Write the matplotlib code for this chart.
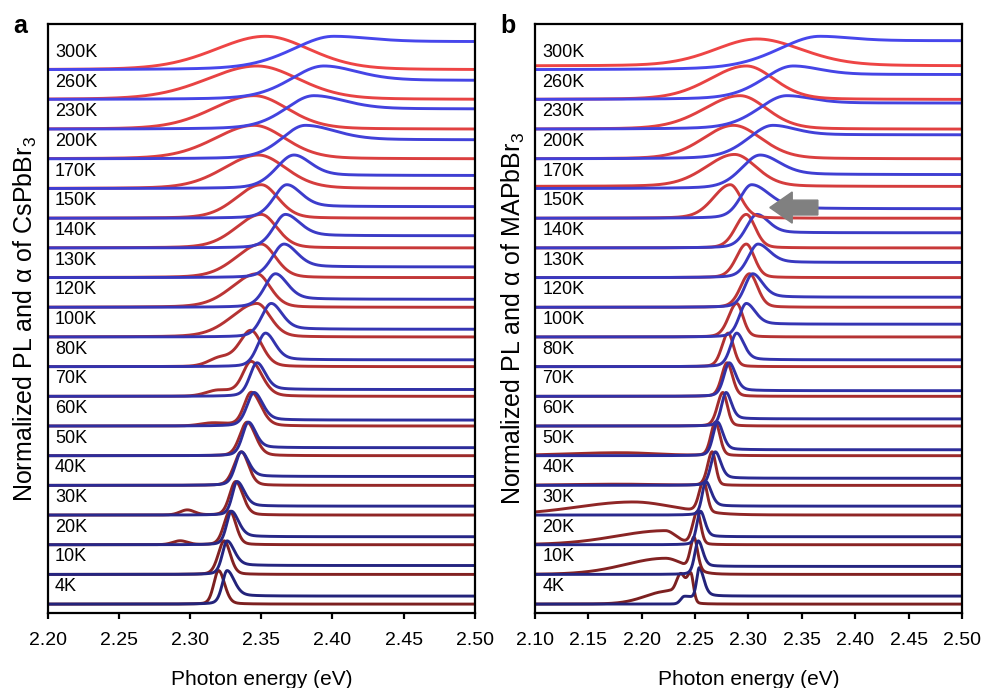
import numpy as np
import matplotlib
matplotlib.use("Agg")
import matplotlib.pyplot as plt
from matplotlib.patches import FancyArrow
from matplotlib.colors import to_rgb

plt.rcParams['font.family'] = ['Liberation Sans', 'DejaVu Sans']
plt.rcParams['mathtext.fontset'] = 'custom'
plt.rcParams['mathtext.rm'] = 'Liberation Sans'
plt.rcParams['mathtext.it'] = 'Liberation Sans:italic'
plt.rcParams['mathtext.default'] = 'regular'

# temperaturas, de abajo hacia arriba
temps = ['4K', '10K', '20K', '30K', '40K', '50K', '60K', '70K', '80K', '100K',
         '120K', '130K', '140K', '150K', '170K', '200K', '230K', '260K', '300K']

# a: CsPbBr3 -- PL (rojo)
pl_a_peak = [2.320, 2.324, 2.328, 2.332, 2.336, 2.340, 2.343, 2.343, 2.343, 2.347,
             2.347, 2.350, 2.350, 2.350, 2.348, 2.345, 2.345, 2.347, 2.353]
pl_a_wl = [0.004, 0.005, 0.005, 0.005, 0.006, 0.006, 0.006, 0.007, 0.009, 0.021,
           0.021, 0.021, 0.021, 0.021, 0.029, 0.033, 0.035, 0.042, 0.042]
pl_a_wr = [0.005, 0.005, 0.005, 0.006, 0.006, 0.007, 0.008, 0.009, 0.009, 0.011,
           0.011, 0.012, 0.013, 0.014, 0.023, 0.026, 0.028, 0.035, 0.037]
pl_a_amp = [1.13] * 19
pl_a_bg = [0.0] * 19
# bandas extra: (indice, centro, altura, ancho izq, ancho der)
pl_a_bands = [(8, 2.322, 0.30, 0.010, 0.016),
              (7, 2.320, 0.20, 0.010, 0.016),
              (6, 2.316, 0.10, 0.010, 0.014),
              (3, 2.298, 0.17, 0.006, 0.006),
              (2, 2.293, 0.13, 0.006, 0.006)]

# a: CsPbBr3 -- absorcion (azul)
ab_a_peak = [2.326, 2.326, 2.329, 2.333, 2.336, 2.341, 2.345, 2.347, 2.353, 2.357,
             2.360, 2.366, 2.367, 2.368, 2.373, 2.381, 2.387, 2.394, 2.401]
ab_a_wl = [0.004, 0.004, 0.004, 0.004, 0.005, 0.005, 0.006, 0.006, 0.007, 0.008,
           0.009, 0.010, 0.010, 0.011, 0.015, 0.020, 0.024, 0.028, 0.035]
ab_a_wr = [0.006, 0.006, 0.006, 0.006, 0.006, 0.006, 0.007, 0.007, 0.008, 0.009,
           0.010, 0.011, 0.012, 0.012, 0.014, 0.025, 0.026, 0.028, 0.030]
ab_a_plat = [0.27, 0.30, 0.27, 0.30, 0.30, 0.27, 0.20, 0.23, 0.23, 0.26,
             0.27, 0.36, 0.41, 0.39, 0.44, 0.64, 0.68, 0.64, 0.95]
ab_a_bands = []

# b: MAPbBr3 -- PL (rojo)
pl_b_peak = [2.246, 2.249, 2.252, 2.258, 2.266, 2.269, 2.276, 2.280, 2.281, 2.289,
             2.301, 2.298, 2.298, 2.283, 2.287, 2.286, 2.292, 2.298, 2.308]
pl_b_wl = [0.0045, 0.004, 0.005, 0.005, 0.005, 0.005, 0.006, 0.006, 0.007, 0.009,
           0.010, 0.011, 0.012, 0.019, 0.032, 0.034, 0.040, 0.041, 0.047]
pl_b_wr = [0.003, 0.004, 0.004, 0.004, 0.004, 0.005, 0.005, 0.006, 0.006, 0.007,
           0.009, 0.009, 0.010, 0.012, 0.024, 0.031, 0.030, 0.031, 0.050]
pl_b_amp = [1.00, 1.10, 1.10, 1.05, 1.13, 1.13, 1.13, 1.13, 1.13, 1.13,
            1.13, 1.13, 1.13, 1.13, 1.08, 1.13, 1.13, 1.13, 0.91]
pl_b_bg = [0.0] * 14 + [0.07, 0.0, 0.0, 0.0, 0.13]
pl_b_bands = [(0, 2.2365, 0.88, 0.005, 0.0045),
              (0, 2.224, 0.42, 0.025, 0.008),
              (1, 2.222, 0.54, 0.045, 0.020),
              (2, 2.222, 0.47, 0.055, 0.012),
              (3, 2.192, 0.44, 0.063, 0.045),
              (4, 2.180, 0.04, 0.060, 0.040),
              (5, 2.180, 0.10, 0.060, 0.040)]

# b: MAPbBr3 -- absorcion (azul)
ab_b_peak = [2.254, 2.253, 2.255, 2.260, 2.269, 2.271, 2.279, 2.282, 2.289, 2.298,
             2.304, 2.309, 2.308, 2.303, 2.311, 2.323, 2.336, 2.342, 2.367]
ab_b_wl = [0.003, 0.004, 0.004, 0.004, 0.005, 0.005, 0.005, 0.006, 0.007, 0.008,
           0.009, 0.011, 0.012, 0.013, 0.021, 0.028, 0.032, 0.034, 0.047]
ab_b_wr = [0.005, 0.005, 0.005, 0.006, 0.006, 0.006, 0.006, 0.007, 0.008, 0.010,
           0.011, 0.013, 0.013, 0.020, 0.022, 0.025, 0.028, 0.030, 0.035]
ab_b_plat = [0.27, 0.27, 0.27, 0.30, 0.24, 0.20, 0.24, 0.19, 0.23, 0.43,
             0.34, 0.51, 0.51, 0.32, 0.47, 0.81, 0.88, 0.84, 0.98]
ab_b_bands = [(0, 2.240, 0.25, 0.004, 0.012)]

ab_height = 1.13
eta_pl = 0.2
eta_ab = 0.3

red_top, red_bot = '#EE4545', '#7C2020'
blue_top, blue_bot = '#4747EC', '#23237A'


def forma(x, c, wl, wr, eta):
    w = np.where(x < c, wl, wr)
    u = (x - c) / w
    return (1 - eta) * np.exp(-np.log(2) * u ** 2) + eta / (1 + u ** 2)


def color(i, top, bot):
    f = i / (len(temps) - 1)
    a, b = np.array(to_rgb(bot)), np.array(to_rgb(top))
    return tuple(a + (b - a) * f)


def panel(ax, x, pl, ab, ylabel, letra):
    pl_peak, pl_wl, pl_wr, pl_amp, pl_bg, pl_bands = pl
    ab_peak, ab_wl, ab_wr, ab_plat, ab_bands = ab
    for i in range(len(temps)):
        y = i + pl_bg[i] + pl_amp[i] * forma(x, pl_peak[i], pl_wl[i], pl_wr[i], eta_pl)
        for j, c, h, wl, wr in pl_bands:
            if j == i:
                y = y + h * forma(x, c, wl, wr, 0.1)
        s = forma(x, ab_peak[i], ab_wl[i], ab_wr[i], eta_ab)
        ya = np.where(x < ab_peak[i], ab_height * s,
                      ab_plat[i] + (ab_height - ab_plat[i]) * s) + i
        for j, c, h, wl, wr in ab_bands:
            if j == i:
                ya = ya + h * forma(x, c, wl, wr, 0.0)
        ax.plot(x, y, color=color(i, red_top, red_bot), lw=2.1, solid_capstyle='butt')
        ax.plot(x, ya, color=color(i, blue_top, blue_bot), lw=2.1, solid_capstyle='butt')
        ax.text(0.017, i + 0.59, temps[i], transform=ax.get_yaxis_transform(),
                fontsize=13, va='center', ha='left')
    ax.set_xlim(x[0], x[-1])
    ax.set_ylim(-0.30, 19.53)
    ax.set_yticks([])
    for sp in ax.spines.values():
        sp.set_linewidth(1.6)
    ax.tick_params(axis='x', direction='out', length=4, width=1.6, labelsize=14, pad=9.5)
    ax.set_xlabel('Photon energy (eV)', fontsize=15, labelpad=15)
    ax.set_ylabel(ylabel, fontsize=18, labelpad=6)
    ax.text(-0.064, 0.986, letra, transform=ax.transAxes, fontsize=18,
            fontweight='bold', va='baseline', ha='center')


fig = plt.figure(figsize=(9.85, 6.88), dpi=100)
ax1 = fig.add_axes([0.0485, 0.1090, 0.4335, 0.8555])
ax2 = fig.add_axes([0.5431, 0.1090, 0.4335, 0.8555])

xa = np.linspace(2.20, 2.50, 1200)
xb = np.linspace(2.10, 2.50, 1600)

panel(ax1, xa, (pl_a_peak, pl_a_wl, pl_a_wr, pl_a_amp, pl_a_bg, pl_a_bands),
      (ab_a_peak, ab_a_wl, ab_a_wr, ab_a_plat, ab_a_bands),
      'Normalized PL and α of CsPbBr$_3$', 'a')
ax1.set_xticks([2.20, 2.25, 2.30, 2.35, 2.40, 2.45, 2.50])
ax1.set_xticklabels(['2.20', '2.25', '2.30', '2.35', '2.40', '2.45', '2.50'])

panel(ax2, xb, (pl_b_peak, pl_b_wl, pl_b_wr, pl_b_amp, pl_b_bg, pl_b_bands),
      (ab_b_peak, ab_b_wl, ab_b_wr, ab_b_plat, ab_b_bands),
      'Normalized PL and α of MAPbBr$_3$', 'b')
ax2.set_xticks([2.10, 2.15, 2.20, 2.25, 2.30, 2.35, 2.40, 2.45, 2.50])
ax2.set_xticklabels(['2.10', '2.15', '2.20', '2.25', '2.30', '2.35', '2.40', '2.45', '2.50'])

# flecha gris junto a 150K
ax2.add_patch(FancyArrow(2.365, 13.36, -0.045, 0, width=0.5, head_width=1.05,
                         head_length=0.021, length_includes_head=True,
                         color='#808080', zorder=5))

fig.savefig('out.png', dpi=100)
